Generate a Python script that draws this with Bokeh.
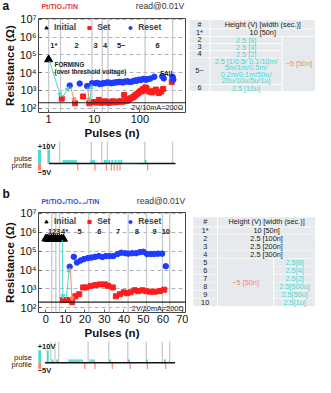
from bokeh.plotting import figure
from bokeh.models import (Range1d, FixedTicker, CustomJSTickFormatter, Span, Arrow, NormalHead,
                          Legend, LegendItem, ColumnDataSource)
from bokeh.layouts import column, row
from bokeh.embed import file_html
from bokeh.resources import INLINE
from bokeh.core.properties import value

FONT = "Liberation Sans"
CYAN = "#4dd8d2"
ORANGE = "#f28c6c"
RED = "#ff1c1c"
BLUE = "#1e3cff"
SEC = "#c5cad0"
CELL = "#e6eaed"
S = 0.952

# ---------------- data: panel a ----------------
y_ticks = [1e2, 1e3, 1e4, 1e5, 1e6, 1e7]
a_x_ticks = [1, 10, 100]
a_init_x = [1.0]
a_init_y = [5.5e4]
a_set_x = [1.94, 3.8, 5.7, 7.8, 9.9, 11, 12.6, 14.3, 16, 17.4, 19.5, 21.4, 23.5, 25.8, 28, 31.3,
           35, 38.6, 42, 45.3, 50.6, 55, 59.3, 64, 69.7, 75, 79.3, 86, 93, 99, 105, 111, 118,
           125, 132, 139, 145, 160, 182, 200, 224, 260, 294, 324, 500, 520]
a_set_y = [340, 186, 450, 186, 220, 205, 290, 200, 215, 240, 205, 200, 225, 240, 210, 220,
           235, 240, 230, 550, 255, 280, 320, 360, 400, 450, 520, 600, 700, 820, 950, 900, 1200,
           1100, 1450, 1300, 1000, 850, 760, 900, 1100, 700, 850, 1200, 3000, 4400]
a_reset_x = [2.9, 4.8, 7.0, 8.9, 10.7, 11.8, 13.2, 14.5, 16, 17.5, 19.4, 21.5, 24, 26.5, 29.4,
             32, 35.7, 39, 43, 47, 53, 58, 65, 71, 79, 86, 96, 105, 118, 127, 138, 150, 170,
             207, 310, 334, 520, 540]
a_reset_y = [1860, 2400, 1740, 2500, 2500, 2600, 2240, 2400, 2500, 2600, 2800, 2700, 2500, 2700,
             2800, 2900, 3000, 2900, 2800, 3100, 3200, 3000, 3000, 3300, 3600, 3500, 4000, 3800,
             4400, 4200, 4000, 4300, 4600, 5800, 6200, 4700, 5800, 4000]
a_sec_lines = [1.0, 1.82, 8.9, 15, 20, 130, 522]
a_sec_labels = ["1*", "2", "3", "4", "5~", "6"]
a_sec_label_x = [1.3, 4.1, 10.7, 17.3, 39, 243]
a_arrow_x0 = [1.05, 2.05, 3.05, 7.2, 8.1]
a_arrow_y0 = [4.5e4, 420, 1600, 1500, 230]
a_arrow_x1 = [1.85, 2.75, 3.7, 7.7, 8.7]
a_arrow_y1 = [420, 1600, 220, 220, 2100]
a_arrow_c = [CYAN, CYAN, ORANGE, ORANGE, CYAN]
# pulse profile a
a_pos_x = [1.07, 17.4, 19.2, 22, 25.6, 30, 35, 40, 136]
a_pos_h = [10, 2.5, 2.5, 2.5, 2.5, 2.5, 2.5, 2.5, 2.5]
a_blk_l = [2.1, 8.5]
a_blk_r = [4.3, 10.8]
a_blk_h = [2.5, 2.5]
a_dot_l = [41]
a_dot_r = [94]
a_dot_h = [1.2]
a_neg_x = [4.5, 10.7, 19, 24.4, 28, 32.5, 37.5, 150]
a_neg_h = [-5, -5, -5, -5, -5, -5, -5, -5]
a_base = [1.07, 605]

# ---------------- data: panel b ----------------
b_x_ticks = [0, 10, 20, 30, 40, 50, 60, 70]
b_init_x = [0, 1, 2, 3, 4, 5, 6, 7, 8, 9]
b_init_y = [4.6e5, 4.5e5, 4.4e5, 4.5e5, 4.6e5, 4.5e5, 4.4e5, 4.5e5, 4.6e5, 4.5e5]
b_set_x = [8.7, 10.2, 11.9, 13.5, 15.1, 17.1, 19.1, 20.7, 23.1, 25.5, 27.9, 30.3, 31.9, 34.3,
           35.9, 38, 39.9, 41.5, 43.4, 45.5, 47.4, 49.5, 51.4, 53.5, 55.9, 58.3, 60.7]
b_set_y = [257, 257, 257, 200, 407, 525, 1200, 1200, 1450, 1620, 1740, 1740, 1450, 1200,
           407, 525, 660, 590, 660, 850, 760, 850, 760, 710, 710, 760, 910]
b_reset_x = [12.2, 14.3, 15.9, 17.8, 19.5, 21.5, 23.4, 25.2, 27.1, 29, 30.8, 32.7, 34.6, 36.7,
             38.6, 40.7, 42.3, 44.2, 46.3, 48.2, 50, 51.9, 53.8, 55.6, 57.5, 59.6, 61.5]
b_reset_y = [1.5e4, 5.0e4, 2.5e4, 3.2e4, 3.8e4, 4.3e4, 4.6e4, 5.0e4, 5.5e4, 4.9e4, 5.5e4, 5.5e4,
             5.5e4, 7.0e4, 8.3e4, 7.8e4, 7.4e4, 7.8e4, 7.8e4, 8.9e4, 9.3e4, 7.1e4, 7.1e4, 7.1e4,
             7.4e4, 7.4e4, 1.6e4]
b_sec_lines = [3.0, 5.1, 7.0, 22, 32.5, 42.2, 51.6, 59.8, 63.5]
b_sec_labels = ["1", "2", "3", "4*", "5", "6", "7", "8", "9", "10"]
b_sec_label_x = [2.2, 4.2, 6.2, 9.6, 17.3, 27.4, 37, 46.6, 55.8, 61.5]
b_arrow_x0 = [8.4, 10.4, 12.5]
b_arrow_y0 = [4.0e5, 300, 1.3e4]
b_arrow_x1 = [8.7, 12.0, 13.4]
b_arrow_y1 = [300, 1.3e4, 230]
b_arrow_c = [CYAN, CYAN, ORANGE]
# pulse profile b
b_pos_x = [1.4, 3.8, 6.2, 33.2, 42.8, 51.9, 61.1]
b_pos_h = [10, 2.5, 2.5, 2.5, 2.5, 2.5, 2.5]
b_blk_l = [11.9, 22.7]
b_blk_r = [19.4, 25.5]
b_blk_h = [2.5, 2.5]
b_neg_x = [20.3, 25.5, 34.3, 43.4, 52.2, 61.5]
b_neg_h = [-5, -5, -5, -5, -5, -5]
b_base = [0, 66.3]

# ---------------- table contents ----------------
ta_rows = ["1*", "2", "3", "4", "5~", "6"]
ta_first = "10 [50n]"
ta_pos = ["2.5 [8]", "2.5 [4]", "2.5 [2]", None, "2.5 [10u]"]
ta_row5_lines = ["2.5 [1/0.5/ 0.1/10m/", "5m/1m/0.5m/", "0.2m/0.1m/50u/", "20u/10u/5u/1u]"]
ta_neg = "\u22125 [50n]"
tb_rows = ["1*", "2", "3", "4", "5", "6", "7", "8", "9", "10"]
tb_first = ["10 [50n]", "2.5 [100n]", "2.5 [200n]", "2.5 [300n]"]
tb_pos = ["2.5[8]", "2.5[4]", "2.5[2]", "2.5[500u]", "2.5[50u]", "2.5[1u]"]
tb_neg = "\u22125 [50n]"
header = ["#", "Height (V) [width (sec.)]"]

SUP_CODE = """
const m = {"0":"\u2070","1":"\u00b9","2":"\u00b2","3":"\u00b3","4":"\u2074","5":"\u2075","6":"\u2076","7":"\u2077","8":"\u2078","9":"\u2079","-":"\u207b"};
const e = Math.round(Math.log10(tick));
return "10" + String(e).split("").map(c => m[c]).join("");
"""

W_ALL, W_PLOT, W_TAB, W_LAB = 315, 188, 127, 37
YR = (10 ** 1.75, 10 ** 7.05)


def blank(width, height, xr, yr, x_type="linear"):
    p = figure(width=width, height=height, x_range=xr, y_range=yr, x_axis_type=x_type,
               x_axis_location=None, y_axis_location=None, output_backend="svg",
               toolbar_location=None, min_border=0)
    p.outline_line_color = None
    p.grid.visible = False
    return p


def strip(height, items):
    # a text strip in reference-pixel coordinates
    p = blank(W_ALL, height, Range1d(0, W_ALL / S), Range1d(height / S, 0))
    for (x, y, t, size, style, color, align) in items:
        p.text(x=[x], y=[y], text=[t], text_align=align, text_baseline="middle",
               text_font=value(FONT), text_font_size=value(size), text_font_style=style,
               text_color=color)
    return p


def res_plot(x_type, xr, x_ticks, height):
    p = figure(width=W_PLOT, height=height, x_axis_type=x_type, y_axis_type="log",
               x_range=xr, y_range=Range1d(*YR), output_backend="svg", toolbar_location=None,
               min_border_left=37, min_border_right=3, min_border_top=6,
               min_border_bottom=0)
    p.xaxis.ticker = FixedTicker(ticks=x_ticks)
    p.xaxis.formatter = CustomJSTickFormatter(code="return String(tick);")
    p.yaxis.ticker = FixedTicker(ticks=y_ticks)
    p.yaxis.formatter = CustomJSTickFormatter(code=SUP_CODE)
    for ax in (p.xaxis, p.yaxis):
        ax.major_label_text_font = FONT
        ax.major_label_text_font_size = "11px"
        ax.major_label_text_color = "#111"
        ax.major_label_text_line_height = 1.0
        ax.axis_label_text_font = FONT
        ax.axis_label_text_font_size = "11.5px"
        ax.axis_label_text_font_style = "bold"
        ax.axis_label_text_color = "#111"
        ax.axis_label_text_line_height = 1.0
        ax.minor_tick_line_color = None
        ax.minor_tick_out = 0
        ax.minor_tick_in = 0
        ax.major_tick_in = 3
        ax.major_tick_out = 0
        ax.major_tick_line_color = "#555"
        ax.axis_line_color = None
        ax.major_label_standoff = 2
        ax.axis_label_standoff = 1
    p.xaxis.axis_label = "Pulses (n)"
    p.yaxis.axis_label = "Resistance (\u03a9)"
    p.xgrid.visible = False
    p.ygrid.ticker = FixedTicker(ticks=y_ticks)
    p.ygrid.grid_line_color = "#aab2bb"
    p.ygrid.grid_line_dash = "4 3"
    p.outline_line_color = "#444"
    p.outline_line_width = 1
    return p


def fill_plot(p, init_x, init_y, set_x, set_y, reset_x, reset_y, sec_lines, sec_labels,
              sec_label_x, sec_y, ax0, ay0, ax1, ay1, ac):
    for s in sec_lines:
        p.add_layout(Span(location=s, dimension="height", line_color=SEC, line_width=1.3,
                          level="underlay"))
    p.add_layout(Span(location=200, dimension="width", line_color="#222", line_width=1.2))
    p.text(x=sec_label_x, y=[sec_y] * len(sec_labels), text=sec_labels, text_align="center",
           text_baseline="middle", text_font=value(FONT), text_font_size=value("7.5px"),
           text_font_style="bold", text_color="#222")
    for i in range(len(ax0)):
        p.add_layout(Arrow(end=NormalHead(size=4, fill_color=ac[i], line_color=ac[i]),
                           x_start=ax0[i], y_start=ay0[i], x_end=ax1[i], y_end=ay1[i],
                           line_color=ac[i], line_width=1))
    r1 = p.scatter(init_x, init_y, marker="triangle", size=8, color="black")
    r2 = p.scatter(set_x, set_y, marker="square", size=5, color=RED)
    r3 = p.scatter(reset_x, reset_y, marker="circle", size=5.5, color=BLUE)
    leg = Legend(items=[LegendItem(label="Initial", renderers=[r1]),
                        LegendItem(label="Set", renderers=[r2]),
                        LegendItem(label="Reset", renderers=[r3])],
                 orientation="horizontal", location="top_left")
    leg.background_fill_alpha = 0
    leg.border_line_alpha = 0
    leg.label_text_font = FONT
    leg.label_text_font_style = "bold"
    leg.label_text_font_size = "8.5px"
    leg.glyph_width = 8
    leg.glyph_height = 9
    leg.label_height = 9
    leg.label_standoff = 4
    leg.spacing = 9
    leg.padding = 0
    leg.margin = 4
    p.add_layout(leg)


def pulse_pair(x_type, xr, y0, y1, height, sec_lines, pos_x, pos_h, blk_l, blk_r, blk_h,
               neg_x, neg_h, base, leg_x, txt_x, txt_y):
    lab = blank(W_LAB, height, Range1d(0, W_LAB / S), Range1d(y0, y1))
    lab.text(x=[33, 33], y=[3.8, -1.5], text=["pulse", "profile"], text_align="right",
             text_baseline="middle", text_font=value(FONT), text_font_size=value("7.5px"),
             text_color="#222")
    p = figure(width=W_PLOT - W_LAB, height=height, x_axis_type=x_type, x_range=xr,
               y_range=Range1d(y0, y1), x_axis_location=None, y_axis_location=None,
               output_backend="svg", toolbar_location=None, min_border_left=0,
               min_border_right=3, min_border_top=0, min_border_bottom=0)
    p.outline_line_color = None
    p.grid.visible = False
    p.segment(x0=sec_lines, y0=[0] * len(sec_lines), x1=sec_lines, y1=[y1] * len(sec_lines),
              line_color=SEC, line_width=1.3)
    p.quad(left=blk_l, right=blk_r, bottom=[0] * len(blk_l), top=blk_h, fill_color=CYAN,
           line_color=None, hatch_pattern="dot", hatch_color="white", hatch_scale=3,
           hatch_alpha=0.5)
    p.segment(x0=pos_x, y0=[0] * len(pos_x), x1=pos_x, y1=pos_h, line_color=CYAN, line_width=2)
    p.segment(x0=neg_x, y0=[0] * len(neg_x), x1=neg_x, y1=neg_h, line_color=ORANGE,
              line_width=1.2)
    p.segment(x0=[base[0]], y0=[0], x1=[base[1]], y1=[0], line_color="#111", line_width=1.5)
    p.quad(left=[leg_x[0]], right=[leg_x[1]], bottom=[0], top=[10], fill_color=CYAN,
           line_color=None)
    p.quad(left=[leg_x[0]], right=[leg_x[1]], bottom=[-5], top=[0], fill_color=ORANGE,
           line_color=None)
    p.text(x=[txt_x, txt_x], y=txt_y, text=["+10V", "\u22125V"], text_align="left",
           text_baseline="middle", text_font=value(FONT), text_font_size=value("7.5px"),
           text_font_style="bold", text_color="#222")
    return lab, p


def table_fig(height, top_ref, quads, texts):
    p = blank(W_TAB, height, Range1d(0, W_TAB / S), Range1d(top_ref + height / S, top_ref))
    l, r, t, b = zip(*quads)
    p.quad(left=l, right=r, top=t, bottom=b, fill_color=CELL, line_color=None)
    tx, ty, tt, tc = zip(*texts)
    src = ColumnDataSource(dict(x=tx, y=ty, text=tt, color=tc))
    p.text(x="x", y="y", text="text", text_color="color", source=src, text_align="center",
           text_baseline="middle", text_font=value(FONT), text_font_size=value("7.3px"))
    return p


H_TA, H_A, H_PA, H_TB, H_B, H_PB = 12, 129, 40, 25, 135, 33

# ---------------- panel a ----------------
title_a = strip(H_TA, [(2, 6.3, "a", "12px", "bold", "#111", "left"),
                       (43, 6.3, "Pt/TiO\u2082/TiN", "7px", "bold", "#e8333a", "left"),
                       (193, 6.3, "read@0.01V", "8.6px", "normal", "#333", "right")])
xa = Range1d(0.6, 1000)
pa = res_plot("log", xa, a_x_ticks, H_A)
fill_plot(pa, a_init_x, a_init_y, a_set_x, a_set_y, a_reset_x, a_reset_y, a_sec_lines,
          a_sec_labels, a_sec_label_x, 10 ** 5.54, a_arrow_x0, a_arrow_y0, a_arrow_x1,
          a_arrow_y1, a_arrow_c)
pa.text(x=[1.35, 1.35], y=[10 ** 4.45, 10 ** 4.07], text=["FORMING", "(over threshold voltage)"],
        text_align="left", text_baseline="middle", text_font=value(FONT),
        text_font_size=value("6.3px"), text_font_style="bold", text_color="#222")
pa.text(x=[280], y=[10 ** 3.93], text=["FAIL"], text_align="left", text_baseline="middle",
        text_font=value(FONT), text_font_size=value("6.5px"), text_font_style="bold",
        text_color="#222")
pa.text(x=[887], y=[10 ** 2.06], text=["2V/10mA=200\u03a9"], text_align="right",
        text_baseline="middle", text_font=value(FONT), text_font_size=value("7.3px"),
        text_color="#222")

lab_a, pul_a = pulse_pair("log", xa, -13, 16, H_PA, a_sec_lines, a_pos_x, a_pos_h,
                          a_blk_l, a_blk_r, a_blk_h, a_neg_x, a_neg_h, a_base, [0.61, 0.72],
                          0.605, [12.4, -6.8])
pul_a.quad(left=a_dot_l, right=a_dot_r, bottom=[0], top=a_dot_h, fill_color=CYAN,
           fill_alpha=0.3, line_color=None)

ta_quads = [(1, 22, 15, 27), (23, 133, 15, 27), (1, 22, 28, 38), (23, 133, 28, 38),
            (99, 133, 39, 117)]
ta_rows_y = [(39, 48), (49, 58), (59, 68), (69, 107), (108, 117)]
for (t0, b0) in ta_rows_y:
    ta_quads.append((1, 22, t0, b0))
    ta_quads.append((23, 98, t0, b0))
ta_texts = [(11.5, 21, header[0], "#222"), (78, 21, header[1], "#222"),
            (11.5, 33, ta_rows[0], "#222"), (78, 33, ta_first, "#222"),
            (116, 78, ta_neg, ORANGE)]
for lab, txt, (t0, b0) in zip(ta_rows[1:], ta_pos, ta_rows_y):
    ta_texts.append((11.5, (t0 + b0) / 2, lab, "#222"))
    if txt is not None:
        ta_texts.append((60.5, (t0 + b0) / 2 + 0.5, txt, CYAN))
for k, line in enumerate(ta_row5_lines):
    ta_texts.append((60.5, 74.5 + 9.3 * k, line, CYAN))
taba = table_fig(H_A, H_TA / S, ta_quads, ta_texts)

# ---------------- panel b ----------------
title_b = strip(H_TB, [(2, 13, "b", "12px", "bold", "#111", "left"),
                       (43, 21, "Pt/TiO\u2082/TiO\u2082\u208b\u2093/TiN", "7px", "bold",
                        "#2f4fe0", "left"),
                       (194, 21, "read@0.01V", "8.6px", "normal", "#333", "right")])
xb = Range1d(-3.8, 71.6)
pb = res_plot("linear", xb, b_x_ticks, H_B)
fill_plot(pb, b_init_x, b_init_y, b_set_x, b_set_y, b_reset_x, b_reset_y, b_sec_lines,
          b_sec_labels, b_sec_label_x, 10 ** 6.02, b_arrow_x0, b_arrow_y0, b_arrow_x1,
          b_arrow_y1, b_arrow_c)
pb.text(x=[70.7], y=[10 ** 1.95], text=["2V/10mA=200\u03a9"], text_align="right",
        text_baseline="middle", text_font=value(FONT), text_font_size=value("7.3px"),
        text_color="#222")

lab_b, pul_b = pulse_pair("linear", xb, -9.5, 17, H_PB, b_sec_lines, b_pos_x, b_pos_h,
                          b_blk_l, b_blk_r, b_blk_h, b_neg_x, b_neg_h, b_base, [-3.4, -1.9],
                          -3.7, [12.6, -6.3])

tb_quads = [(5, 30, 33, 46), (31, 133, 33, 46), (31, 89, 92, 159)]
tb_rows_top = [(47, 57.5), (58, 69), (69.5, 80), (80.5, 91)]
tb_rows_bot = [(92, 102.5), (103, 114), (114.5, 125.5), (126, 137), (137.5, 148), (148.5, 159)]
tb_texts = [(17.5, 39.5, header[0], "#222"), (82, 39.5, header[1], "#222"),
            (60, 125.5, tb_neg, ORANGE)]
for lab, txt, (t0, b0) in zip(tb_rows[:4], tb_first, tb_rows_top):
    tb_quads.append((5, 30, t0, b0))
    tb_quads.append((31, 133, t0, b0))
    tb_texts.append((17.5, (t0 + b0) / 2, lab, "#222"))
    tb_texts.append((82, (t0 + b0) / 2, txt, "#222"))
for lab, txt, (t0, b0) in zip(tb_rows[4:], tb_pos, tb_rows_bot):
    tb_quads.append((5, 30, t0, b0))
    tb_quads.append((90, 133, t0, b0))
    tb_texts.append((17.5, (t0 + b0) / 2, lab, "#222"))
    tb_texts.append((111.5, (t0 + b0) / 2, txt, CYAN))
tabb = table_fig(H_B, H_TB / S, tb_quads, tb_texts)

layout = column(title_a, row(pa, taba), row(lab_a, pul_a),
                title_b, row(pb, tabb), row(lab_b, pul_b))
open("out.html", "w").write(file_html(layout, INLINE))
